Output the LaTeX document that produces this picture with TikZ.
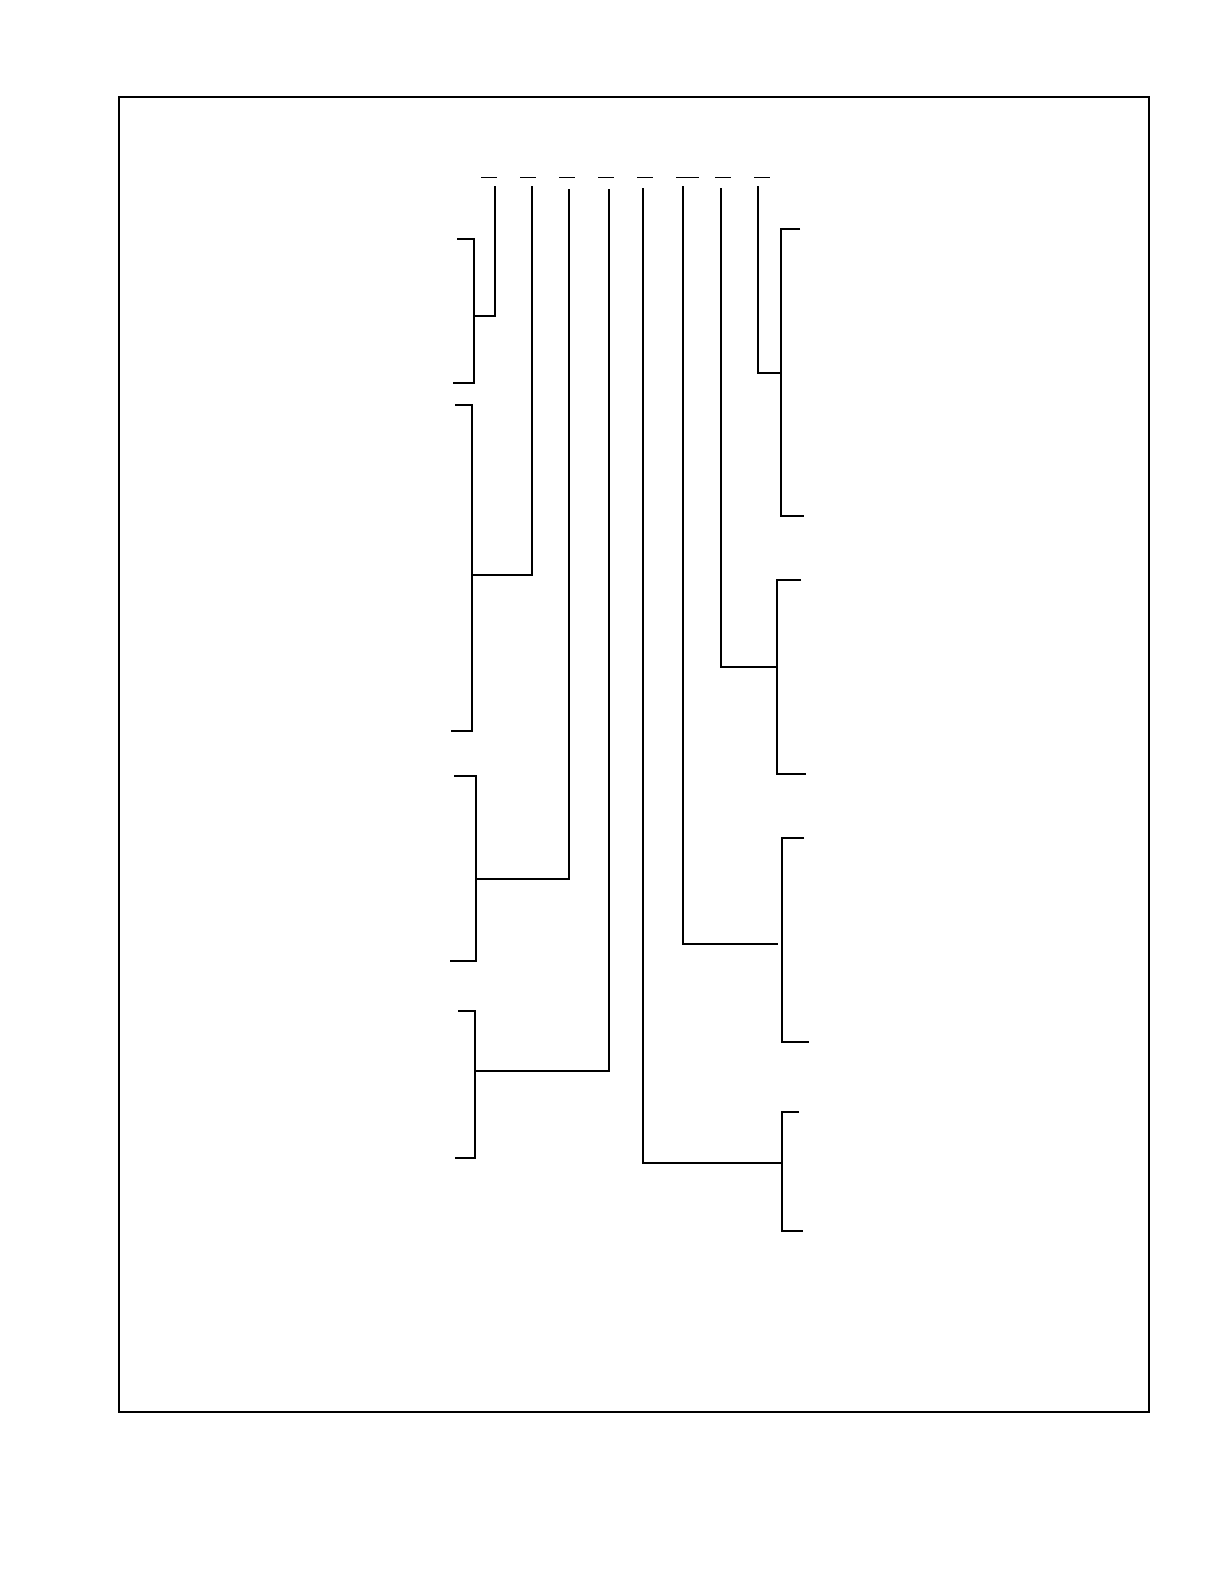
\documentclass[tikz,border=0pt]{standalone}
\begin{document}
\begin{tikzpicture}[x=1pt,y=-1pt,
    frame/.style={line width=2.7pt},
    link/.style={line width=2.2pt},
    blank/.style={line width=1pt}]
  \useasboundingbox (0,0) rectangle (1224,1584);
  \draw[frame] (119,97) rectangle (1149,1412);
  % blanks over the columns
  \draw[blank] (481,177) -- (497,177);
  \draw[blank] (520,177) -- (536,177);
  \draw[blank] (559,177) -- (575,177);
  \draw[blank] (598,177) -- (614,177);
  \draw[blank] (637,177) -- (653,177);
  \draw[blank] (676,177) -- (699,177);
  \draw[blank] (715,177) -- (731,177);
  \draw[blank] (754,177) -- (770,177);
  % column heads
  \coordinate (h1) at (495,186);
  \coordinate (h2) at (532,186);
  \coordinate (h3) at (569,189);
  \coordinate (h4) at (609,189);
  \coordinate (h5) at (643,188);
  \coordinate (h6) at (683,186);
  \coordinate (h7) at (721,188);
  \coordinate (h8) at (758,186);
  % joints on the brackets
  \coordinate (j1) at (474,316);
  \coordinate (j2) at (472,575);
  \coordinate (j3) at (476,879);
  \coordinate (j4) at (475,1071);
  \coordinate (j5) at (782,1163);
  \coordinate (j6) at (778,944);
  \coordinate (j7) at (777,667);
  \coordinate (j8) at (781,373);
  % left brackets
  \coordinate (l1a) at (457,239);  \coordinate (l1b) at (453,383);
  \coordinate (l2a) at (455,405);  \coordinate (l2b) at (451,731);
  \coordinate (l3a) at (454,776);  \coordinate (l3b) at (450,961);
  \coordinate (l4a) at (458,1011); \coordinate (l4b) at (455,1158);
  % right brackets
  \coordinate (r1a) at (800,229);  \coordinate (r1b) at (804,516);
  \coordinate (r2a) at (801,580);  \coordinate (r2b) at (806,774);
  \coordinate (r3a) at (804,838);  \coordinate (r3b) at (809,1042);
  \coordinate (r4a) at (799,1112); \coordinate (r4b) at (803,1231);
  \draw[link] (l1a) -| (j1 |- l1b) -- (l1b);
  \draw[link] (l2a) -| (j2 |- l2b) -- (l2b);
  \draw[link] (l3a) -| (j3 |- l3b) -- (l3b);
  \draw[link] (l4a) -| (j4 |- l4b) -- (l4b);
  \draw[link] (r1a) -| (j8 |- r1b) -- (r1b);
  \draw[link] (r2a) -| (j7 |- r2b) -- (r2b);
  \draw[link] (r3a) -| (782,1042) -- (r3b);
  \draw[link] (r4a) -| (j5 |- r4b) -- (r4b);
  % columns down to the brackets
  \draw[link] (h1) -- (h1 |- j1) -- (j1);
  \draw[link] (h2) -- (h2 |- j2) -- (j2);
  \draw[link] (h3) -- (h3 |- j3) -- (j3);
  \draw[link] (h4) -- (h4 |- j4) -- (j4);
  \draw[link] (h5) -- (h5 |- j5) -- (j5);
  \draw[link] (h6) -- (h6 |- j6) -- (j6);
  \draw[link] (h7) -- (h7 |- j7) -- (j7);
  \draw[link] (h8) -- (h8 |- j8) -- (j8);
\end{tikzpicture}
\end{document}
